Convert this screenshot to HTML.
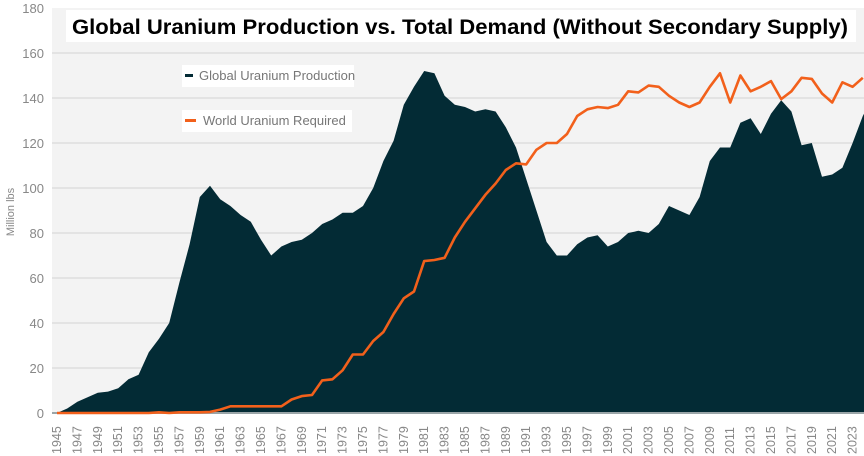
<!DOCTYPE html>
<html><head><meta charset="utf-8"><style>
body{margin:0;background:#fff;}
svg{display:block;font-family:"Liberation Sans",sans-serif;}
</style></head><body>
<svg id="s" width="864" height="456" xmlns="http://www.w3.org/2000/svg">
<rect x="52" y="8" width="812" height="405" fill="#f3f3f3"/>
<g id="grid" stroke="#dedede" stroke-width="1.5"></g>
<g id="yl" fill="#888" font-size="13" text-anchor="end"></g>
<path id="prod" fill="#032b35"/>
<line x1="52" y1="413" x2="864" y2="413" stroke="#9aa5a8" stroke-width="2"/>
<polyline id="dem" fill="none" stroke="#f2601b" stroke-width="2.6" stroke-linejoin="round"/>
<g id="xl" fill="#888" font-size="12.5"></g>
<text transform="translate(14,212) rotate(-90)" fill="#888" font-size="11" text-anchor="middle">Million lbs</text>
<rect x="182" y="65" width="172" height="22" fill="#fff"/>
<rect x="185" y="74" width="8" height="3" fill="#032b35"/>
<text x="199" y="80" fill="#777" font-size="13">Global Uranium Production</text>
<rect x="182" y="110" width="170" height="22" fill="#fff"/>
<rect x="185" y="119" width="11" height="3" fill="#f2601b"/>
<text x="203" y="125" fill="#777" font-size="13">World Uranium Required</text>
<rect x="66" y="10" width="790" height="32" fill="#fff"/>
<text x="460" y="34" text-anchor="middle" font-size="21" font-weight="bold" fill="#000" textLength="776" lengthAdjust="spacingAndGlyphs">Global Uranium Production vs. Total Demand (Without Secondary Supply)</text>
</svg>
<script>
var P=[0,2,5,7,9,9.5,11,15,17,27,33,40,58,75,96,101,95,92,88,85,77,70,74,76,77,80,84,86,89,89,92,100,112,121,137,145,152,151,141,137,136,134,135,134,127,118,104,90,76,70,70,75,78,79,74,76,80,81,80,84,92,90,88,96,112,118,118,129,131,124,133,139,134,119,120,105,106,109,120,132,133];
var D=[0,0,0,0,0,0,0,0,0,0,0.3,0,0.3,0.3,0.3,0.5,1.5,3,3,3,3,3,3,6,7.5,8,14.5,15,19,26,26,32,36,44,51,54,67.5,68,69,78,85,91,97,102,108,111,110.5,117,120,120,124,132,135,136,135.5,137,143,142.5,145.5,145,141,138,136,138,145,151,138,150,143,145,147.5,139.5,143,149,148.5,142,138,147,145,149];
function X(i){return Math.min(864,57+10.2*i);}function Y(v){return 413-2.25*v;}
var d="M57,413";P.forEach(function(v,i){d+="L"+X(i).toFixed(1)+","+Y(v).toFixed(1);});d+="L864,413Z";
document.getElementById("prod").setAttribute("d",d);
document.getElementById("dem").setAttribute("points",D.map(function(v,i){return X(i).toFixed(1)+","+Y(v).toFixed(1);}).join(" "));
var g="",yl="",xl="";
for(var v=20;v<=160;v+=20){g+='<line x1="52" x2="864" y1="'+Y(v)+'" y2="'+Y(v)+'"/>';}
for(var v=0;v<=180;v+=20){yl+='<text x="44" y="'+(Y(v)+5)+'">'+v+'</text>';}
for(var yr=1945;yr<=2023;yr+=2){var x=X(yr-1945)+4;xl+='<text transform="translate('+x.toFixed(1)+',454) rotate(-90)">'+yr+'</text>';}
document.getElementById("grid").innerHTML=g;document.getElementById("yl").innerHTML=yl;document.getElementById("xl").innerHTML=xl;
</script>
</body></html>
